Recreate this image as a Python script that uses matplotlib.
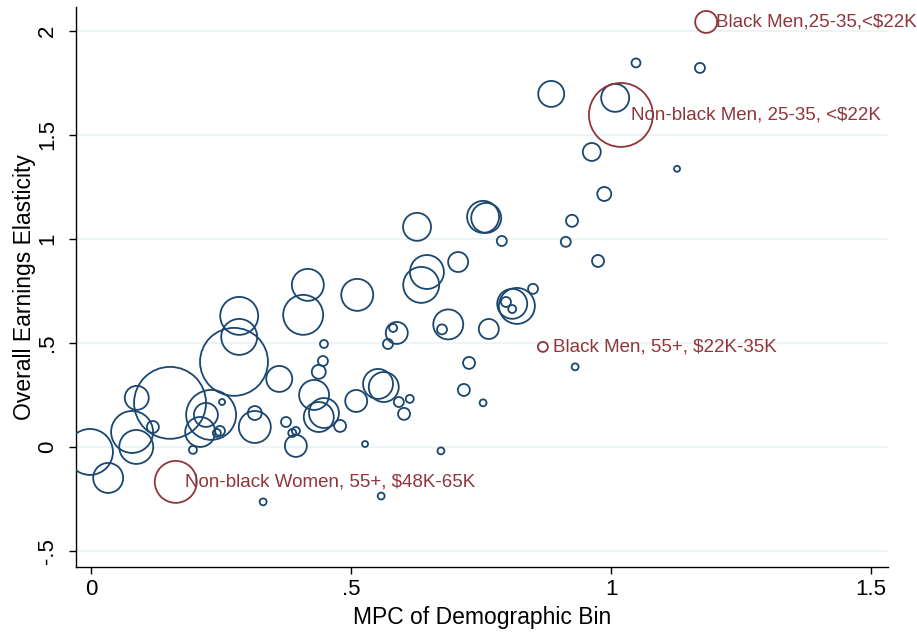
import matplotlib.pyplot as plt

plt.rcParams["font.family"] = ["Liberation Sans", "DejaVu Sans"]

# blue bins: MPC, elasticity, bin weight
mpc = [-0.002, 0.033, 0.079, 0.087, 0.088, 0.119, 0.152, 0.196, 0.210, 0.221,
       0.231, 0.252, 0.242, 0.248, 0.275, 0.285, 0.285, 0.315, 0.315, 0.362,
       0.375, 0.387, 0.394, 0.394, 0.408, 0.417, 0.429, 0.438, 0.448, 0.438,
       0.446, 0.448, 0.479, 0.510, 0.512, 0.527, 0.552, 0.563, 0.592, 0.613,
       0.602, 0.571, 0.581, 0.588, 0.558, 0.331, 0.627, 0.635, 0.646, 0.673,
       0.675, 0.687, 0.706, 0.717, 0.727, 0.754, 0.754, 0.760, 0.765, 0.790,
       0.798, 0.810, 0.810, 0.819, 0.850, 0.885, 0.913, 0.925, 0.931, 0.963,
       0.975, 0.987, 1.008, 1.048, 1.127, 1.171]
elasticity = [-0.024, -0.149, 0.072, 0.000, 0.236, 0.096, 0.212, -0.014, 0.072, 0.154,
              0.154, 0.216, 0.067, 0.077, 0.409, 0.630, 0.529, 0.096, 0.163, 0.327,
              0.120, 0.067, 0.077, 0.005, 0.635, 0.779, 0.250, 0.144, 0.163, 0.361,
              0.413, 0.495, 0.101, 0.221, 0.731, 0.014, 0.303, 0.288, 0.216, 0.231,
              0.159, 0.495, 0.572, 0.548, -0.236, -0.264, 1.058, 0.779, 0.841, -0.019,
              0.565, 0.589, 0.889, 0.274, 0.404, 0.212, 1.106, 1.101, 0.567, 0.990,
              0.697, 0.663, 0.688, 0.678, 0.760, 1.697, 0.986, 1.087, 0.385, 1.418,
              0.894, 1.216, 1.678, 1.846, 1.337, 1.822]
weight = [52.9, 22.5, 44.1, 28.9, 14.4, 3.6, 129.6, 1.6, 22.5, 14.4,
          62.5, 0.9, 1.6, 2.5, 115.6, 36.1, 32.4, 25.6, 4.9, 16.9,
          2.5, 1.6, 1.6, 12.1, 40.0, 25.6, 22.5, 22.5, 22.5, 4.9,
          2.5, 1.6, 3.6, 12.1, 25.6, 0.9, 22.5, 22.5, 2.5, 1.6,
          3.6, 2.5, 1.6, 12.1, 1.2, 1.2, 19.6, 32.4, 28.9, 1.2,
          2.5, 22.5, 10.0, 3.6, 3.6, 1.2, 25.6, 22.5, 10.0, 2.5,
          2.5, 1.6, 22.5, 32.4, 2.5, 16.9, 2.5, 3.6, 1.2, 8.1,
          3.6, 4.9, 19.6, 2.0, 0.9, 2.5]

# highlighted bins
hl_labels = ["Black Men,25-35,<$22K", "Non-black Men, 25-35, <$22K",
             "Black Men, 55+, $22K-35K", "Non-black Women, 55+, $48K-65K"]
hl_mpc = [1.183, 1.019, 0.869, 0.163]
hl_elasticity = [2.043, 1.596, 0.481, -0.168]
hl_weight = [12.1, 102.4, 2.5, 44.1]

BLUE = "#1a476f"
RED = "#90353b"
SCALE = 20.7  # weight -> marker area (pt^2)

fig = plt.figure(figsize=(9.17, 6.33), dpi=100)
ax = fig.add_axes([0.0829, 0.1043, 0.8855, 0.8847])

ax.scatter(mpc, elasticity, s=[w * SCALE for w in weight], facecolors="none",
           edgecolors=BLUE, linewidths=1.3, zorder=3)
ax.scatter(hl_mpc, hl_elasticity, s=[w * SCALE for w in hl_weight], facecolors="none",
           edgecolors=RED, linewidths=1.3, zorder=4)
for lab, x, y in zip(hl_labels, hl_mpc, hl_elasticity):
    ax.annotate(lab, (x, y), xytext=(7, 0), textcoords="offset points",
                va="center", ha="left", color=RED, fontsize=13.5,
                annotation_clip=False, zorder=5)

ax.set_xlim(-0.0288, 1.5327)
ax.set_ylim(-0.577, 2.115)
ax.set_xticks([0, 0.5, 1, 1.5])
ax.set_xticklabels(["0", ".5", "1", "1.5"])
ax.set_yticks([-0.5, 0, 0.5, 1, 1.5, 2])
ax.set_yticklabels(["-.5", "0", ".5", "1", "1.5", "2"], rotation=90, va="center")
ax.tick_params(direction="out", length=5, width=1, labelsize=16, colors="black")
ax.tick_params(axis="y", pad=8)
ax.tick_params(axis="x", pad=4)

ax.grid(axis="y", color="#eaf2f3", linewidth=1.2, zorder=0)
ax.set_axisbelow(True)
for side in ["top", "right"]:
    ax.spines[side].set_visible(False)
for side in ["left", "bottom"]:
    ax.spines[side].set_linewidth(1)

ax.set_xlabel("MPC of Demographic Bin", fontsize=16.5, labelpad=4)
ax.set_ylabel("Overall Earnings Elasticity", fontsize=16.5, labelpad=1)

fig.savefig("out.png", dpi=100)
